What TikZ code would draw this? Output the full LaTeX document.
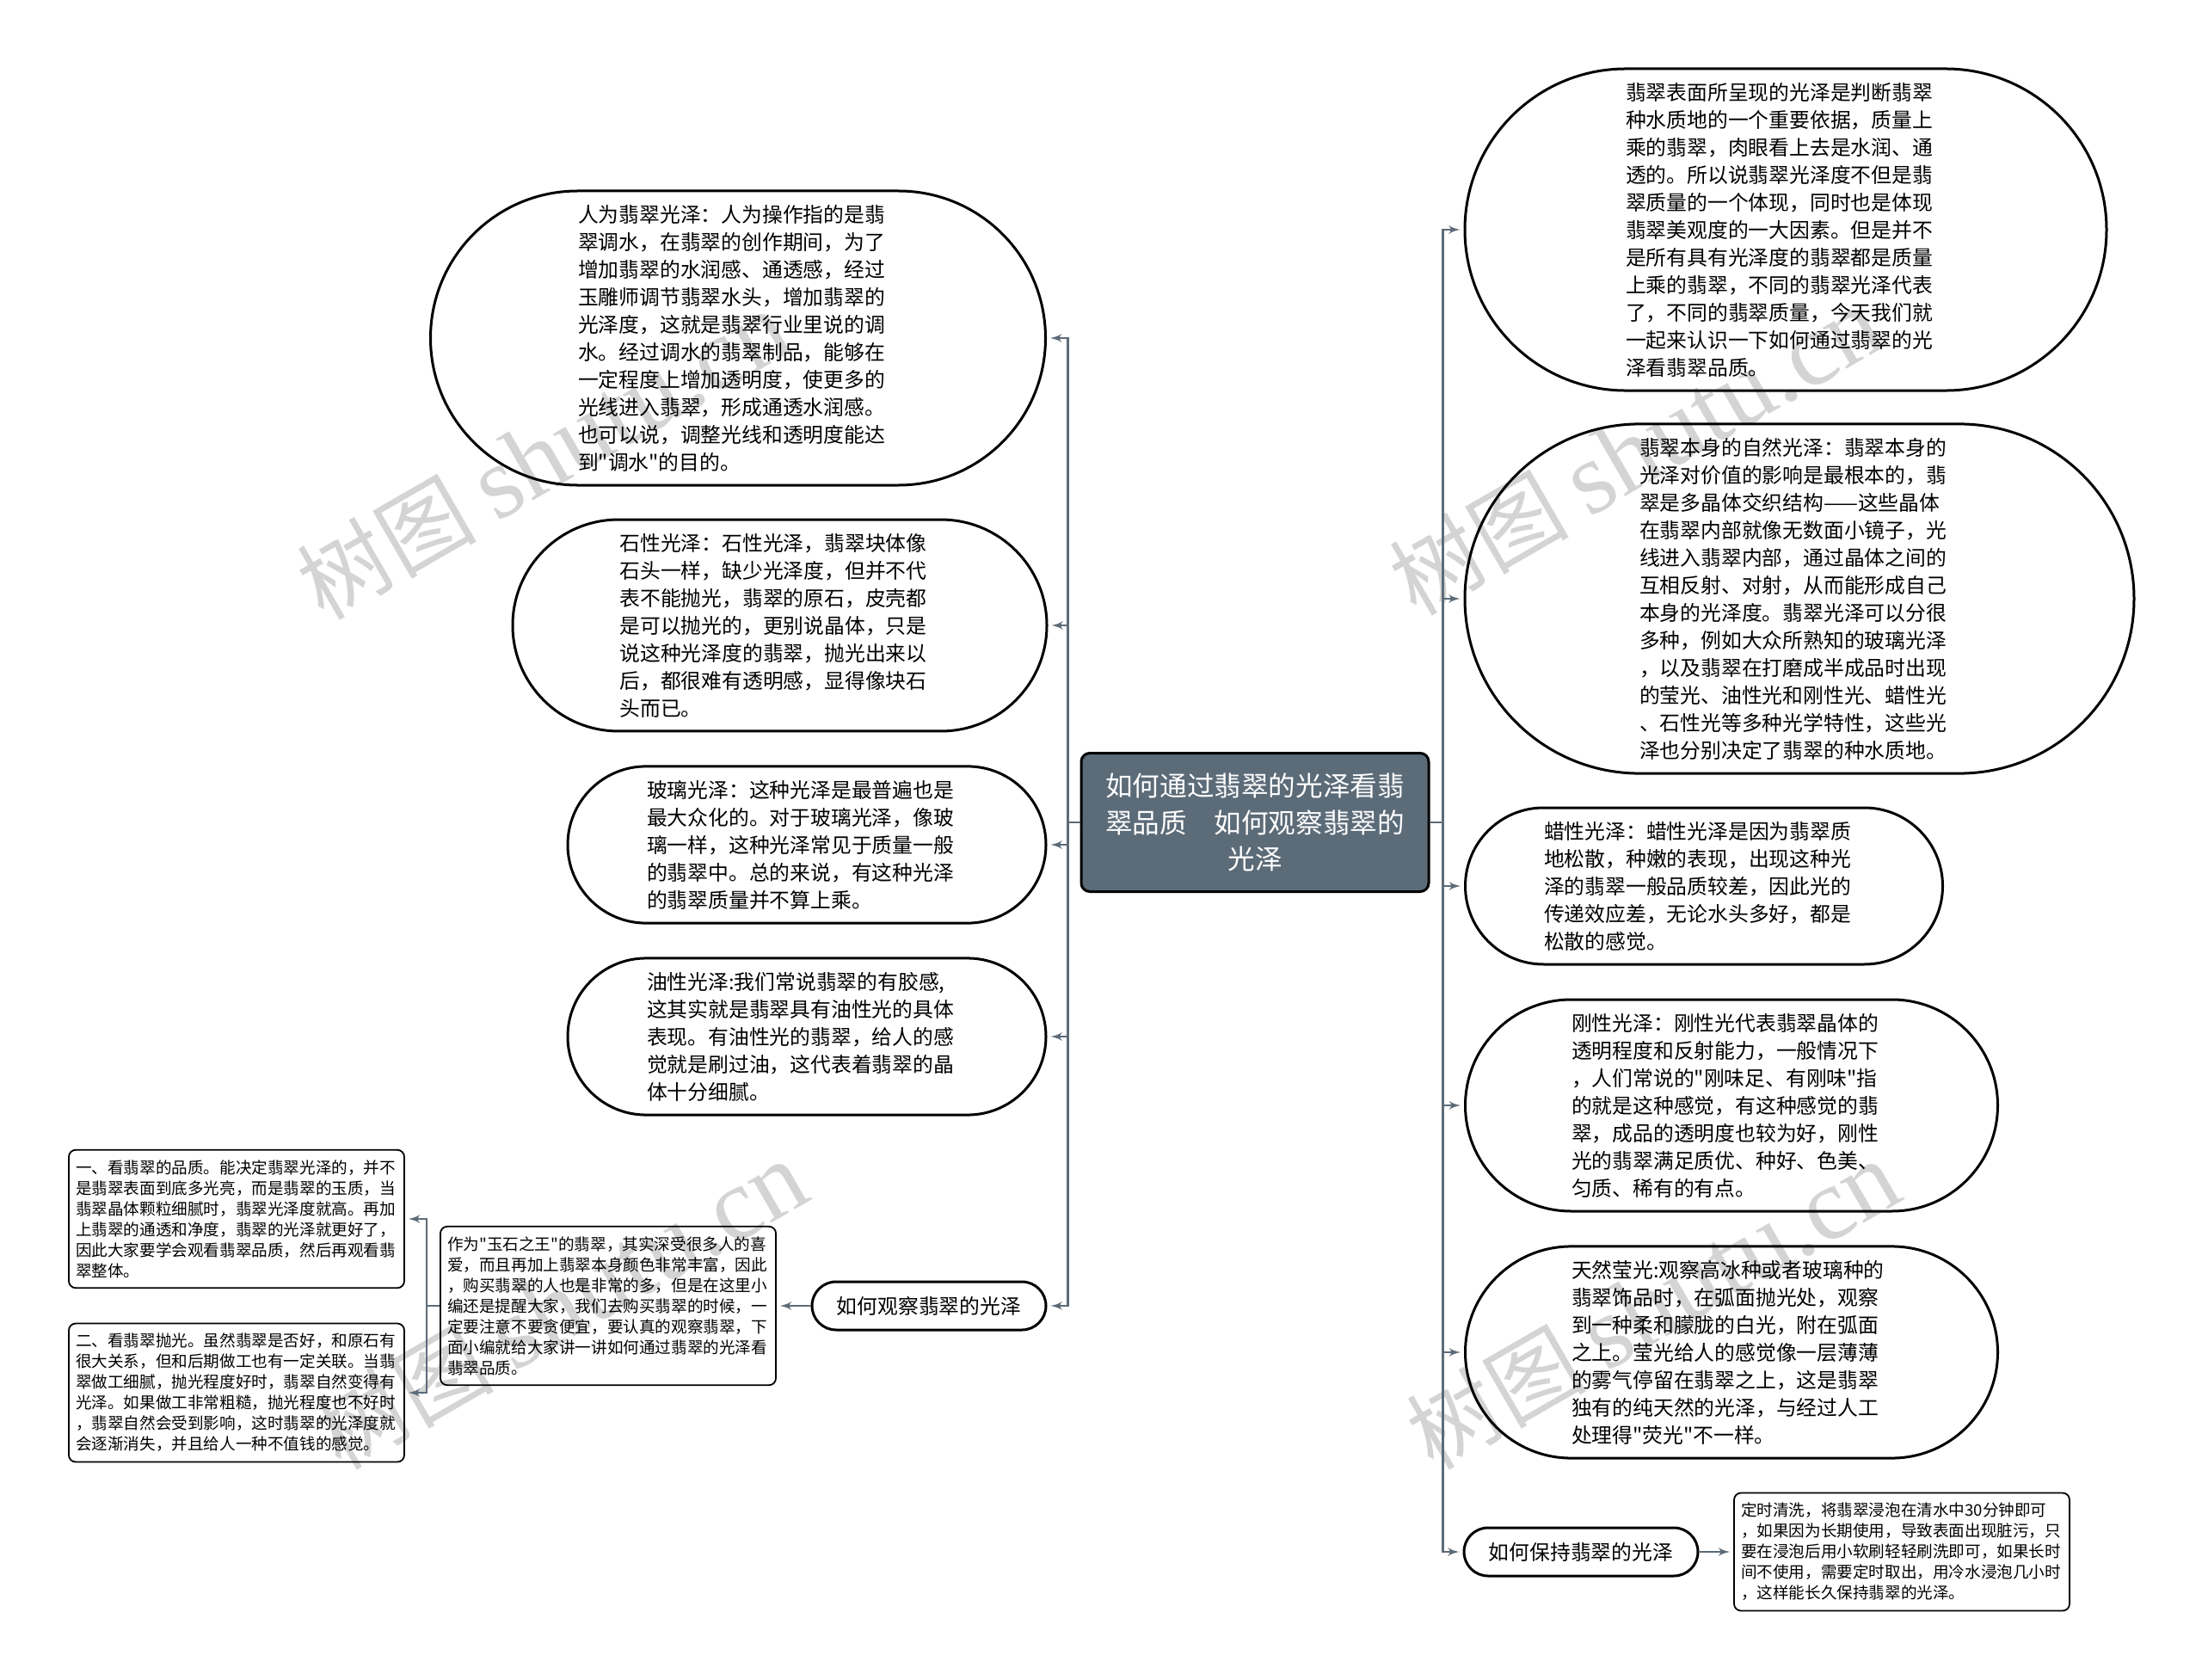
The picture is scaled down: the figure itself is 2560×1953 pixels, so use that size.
\documentclass[tikz,border=0pt]{standalone}
\usepackage{fontspec}
\setmainfont{Noto Sans CJK SC}[Ligatures=TeXOff]
\newfontfamily\wmlatin{Liberation Serif}
\usetikzlibrary{arrows}
\usetikzlibrary{shapes.misc}
\definecolor{mslate}{rgb}{0.36, 0.42, 0.47}
\definecolor{mwater}{rgb}{0.83, 0.83, 0.83}
\tikzset{pill/.style = {rounded rectangle, draw=black, line width=1.5pt, align=left,
                        text width=186pt, inner xsep=0pt, inner ysep=8pt,
                        font=\fontsize{11.9}{16}\selectfont},
         tag/.style = {rounded rectangle, draw=black, line width=1.5pt, inner xsep=0pt,
                       minimum height=28pt, minimum width=136pt, font=\fontsize{11.9}{16}\selectfont},
         note/.style = {rectangle, rounded corners=4pt, draw=black, line width=0.9pt, align=left,
                        text width=187pt, inner xsep=4pt, inner ysep=5.8pt,
                        font=\fontsize{9.3}{12}\selectfont},
         rootbox/.style = {rectangle, rounded corners=5pt, draw=black, line width=1.5pt, fill=mslate,
                           text=white, align=center, text width=178pt, minimum width=202pt,
                           minimum height=80.5pt, font=\fontsize{15.8}{21.25}\selectfont},
         link/.style = {mslate, line width=1.3pt, -latex', shorten >=2pt},
         wmtext/.style = {rotate=30, text=mwater, inner sep=0pt, font=\fontsize{52}{55}\selectfont}}

\begin{document}
\begin{tikzpicture}[x=0.5pt, y=-0.5pt]
    \useasboundingbox (0, 0) rectangle (2560, 1953);

    % watermarks go under everything
    \node [wmtext] (wma) at (632, 530) {树图 {\wmlatin\fontsize{60}{60}\selectfont shutu.cn}};
    \node [wmtext] (wmb) at (1902, 525) {树图 {\wmlatin\fontsize{60}{60}\selectfont shutu.cn}};
    \node [wmtext] (wmc) at (652, 1518) {树图 {\wmlatin\fontsize{60}{60}\selectfont shutu.cn}};
    \node [wmtext] (wmd) at (1922, 1518) {树图 {\wmlatin\fontsize{60}{60}\selectfont shutu.cn}};

    \node [rootbox] (root) at (1459, 956) {如何通过翡翠的光泽看翡\\翠品质　如何观察翡翠的\\光泽};

    % left side
    \node [pill, minimum width=357.5pt] (renwei) at (858, 393) {人为翡翠光泽：人为操作指的是翡\\翠调水，在翡翠的创作期间，为了\\增加翡翠的水润感、通透感，经过\\玉雕师调节翡翠水头，增加翡翠的\\光泽度，这就是翡翠行业里说的调\\水。经过调水的翡翠制品，能够在\\一定程度上增加透明度，使更多的\\光线进入翡翠，形成通透水润感。\\也可以说，调整光线和透明度能达\\到"调水"的目的。};
    \node [pill, minimum width=310.5pt] (shixing) at (906.5, 727) {石性光泽：石性光泽，翡翠块体像\\石头一样，缺少光泽度，但并不代\\表不能抛光，翡翠的原石，皮壳都\\是可以抛光的，更别说晶体，只是\\说这种光泽度的翡翠，抛光出来以\\后，都很难有透明感，显得像块石\\头而已。};
    \node [pill, minimum width=278pt] (boli) at (938, 982) {玻璃光泽：这种光泽是最普遍也是\\最大众化的。对于玻璃光泽，像玻\\璃一样，这种光泽常见于质量一般\\的翡翠中。总的来说，有这种光泽\\的翡翠质量并不算上乘。};
    \node [pill, minimum width=278pt] (youxing) at (938, 1205) {油性光泽:我们常说翡翠的有胶感,\\这其实就是翡翠具有油性光的具体\\表现。有油性光的翡翠，给人的感\\觉就是刷过油，这代表着翡翠的晶\\体十分细腻。};
    \node [tag] (guancha) at (1080, 1518) {如何观察翡翠的光泽};
    \node [note] (zuowei) at (707, 1518) {作为"玉石之王"的翡翠，其实深受很多人的喜\\爱，而且再加上翡翠本身颜色非常丰富，因此\\，购买翡翠的人也是非常的多，但是在这里小\\编还是提醒大家，我们去购买翡翠的时候，一\\定要注意不要贪便宜，要认真的观察翡翠，下\\面小编就给大家讲一讲如何通过翡翠的光泽看\\翡翠品质。};
    \node [note] (pinzhi) at (275, 1417) {一、看翡翠的品质。能决定翡翠光泽的，并不\\是翡翠表面到底多光亮，而是翡翠的玉质，当\\翡翠晶体颗粒细腻时，翡翠光泽度就高。再加\\上翡翠的通透和净度，翡翠的光泽就更好了，\\因此大家要学会观看翡翠品质，然后再观看翡\\翠整体。};
    \node [note] (paoguang) at (275, 1619) {二、看翡翠抛光。虽然翡翠是否好，和原石有\\很大关系，但和后期做工也有一定关联。当翡\\翠做工细腻，抛光程度好时，翡翠自然变得有\\光泽。如果做工非常粗糙，抛光程度也不好时\\，翡翠自然会受到影响，这时翡翠的光泽度就\\会逐渐消失，并且给人一种不值钱的感觉。};

    % right side
    \node [pill, minimum width=373pt] (biaomian) at (2076, 267) {翡翠表面所呈现的光泽是判断翡翠\\种水质地的一个重要依据，质量上\\乘的翡翠，肉眼看上去是水润、通\\透的。所以说翡翠光泽度不但是翡\\翠质量的一个体现，同时也是体现\\翡翠美观度的一大因素。但是并不\\是所有具有光泽度的翡翠都是质量\\上乘的翡翠，不同的翡翠光泽代表\\了，不同的翡翠质量，今天我们就\\一起来认识一下如何通过翡翠的光\\泽看翡翠品质。};
    \node [pill, minimum width=389pt] (ziran) at (2092, 696) {翡翠本身的自然光泽：翡翠本身的\\光泽对价值的影响是最根本的，翡\\翠是多晶体交织结构——这些晶体\\在翡翠内部就像无数面小镜子，光\\线进入翡翠内部，通过晶体之间的\\互相反射、对射，从而能形成自己\\本身的光泽度。翡翠光泽可以分很\\多种，例如大众所熟知的玻璃光泽\\，以及翡翠在打磨成半成品时出现\\的莹光、油性光和刚性光、蜡性光\\、石性光等多种光学特性，这些光\\泽也分别决定了翡翠的种水质地。};
    \node [pill, minimum width=277.5pt] (laxing) at (1981, 1030) {蜡性光泽：蜡性光泽是因为翡翠质\\地松散，种嫩的表现，出现这种光\\泽的翡翠一般品质较差，因此光的\\传递效应差，无论水头多好，都是\\松散的感觉。};
    \node [pill, minimum width=309.5pt] (gangxing) at (2013, 1285) {刚性光泽：刚性光代表翡翠晶体的\\透明程度和反射能力，一般情况下\\，人们常说的"刚味足、有刚味"指\\的就是这种感觉，有这种感觉的翡\\翠，成品的透明度也较为好，刚性\\光的翡翠满足质优、种好、色美、\\匀质、稀有的有点。};
    \node [pill, minimum width=309.5pt] (yingguang) at (2013, 1572) {天然莹光:观察高冰种或者玻璃种的\\翡翠饰品时，在弧面抛光处，观察\\到一种柔和朦胧的白光，附在弧面\\之上。莹光给人的感觉像一层薄薄\\的雾气停留在翡翠之上，这是翡翠\\独有的纯天然的光泽，与经过人工\\处理得"荧光"不一样。};
    \node [tag] (baochi) at (1838, 1804) {如何保持翡翠的光泽};
    \node [note] (dingshi) at (2211, 1804) {定时清洗，将翡翠浸泡在清水中30分钟即可\\，如果因为长期使用，导致表面出现脏污，只\\要在浸泡后用小软刷轻轻刷洗即可，如果长时\\间不使用，需要定时取出，用冷水浸泡几小时\\，这样能长久保持翡翠的光泽。};

    \draw [link] (root.west) -- ++(-14, 0) |- (renwei.east);
    \draw [link] (root.west) -- ++(-14, 0) |- (shixing.east);
    \draw [link] (root.west) -- ++(-14, 0) |- (boli.east);
    \draw [link] (root.west) -- ++(-14, 0) |- (youxing.east);
    \draw [link] (root.west) -- ++(-14, 0) |- (guancha.east);
    \draw [link] (guancha.west) -- (zuowei.east);
    \draw [link] (zuowei.west) -- ++(-15, 0) |- (pinzhi.east);
    \draw [link] (zuowei.west) -- ++(-15, 0) |- (paoguang.east);

    \draw [link] (root.east) -- ++(15, 0) |- (biaomian.west);
    \draw [link] (root.east) -- ++(15, 0) |- (ziran.west);
    \draw [link] (root.east) -- ++(15, 0) |- (laxing.west);
    \draw [link] (root.east) -- ++(15, 0) |- (gangxing.west);
    \draw [link] (root.east) -- ++(15, 0) |- (yingguang.west);
    \draw [link] (root.east) -- ++(15, 0) |- (baochi.west);
    \draw [link] (baochi.east) -- (dingshi.west);
\end{tikzpicture}
\end{document}
